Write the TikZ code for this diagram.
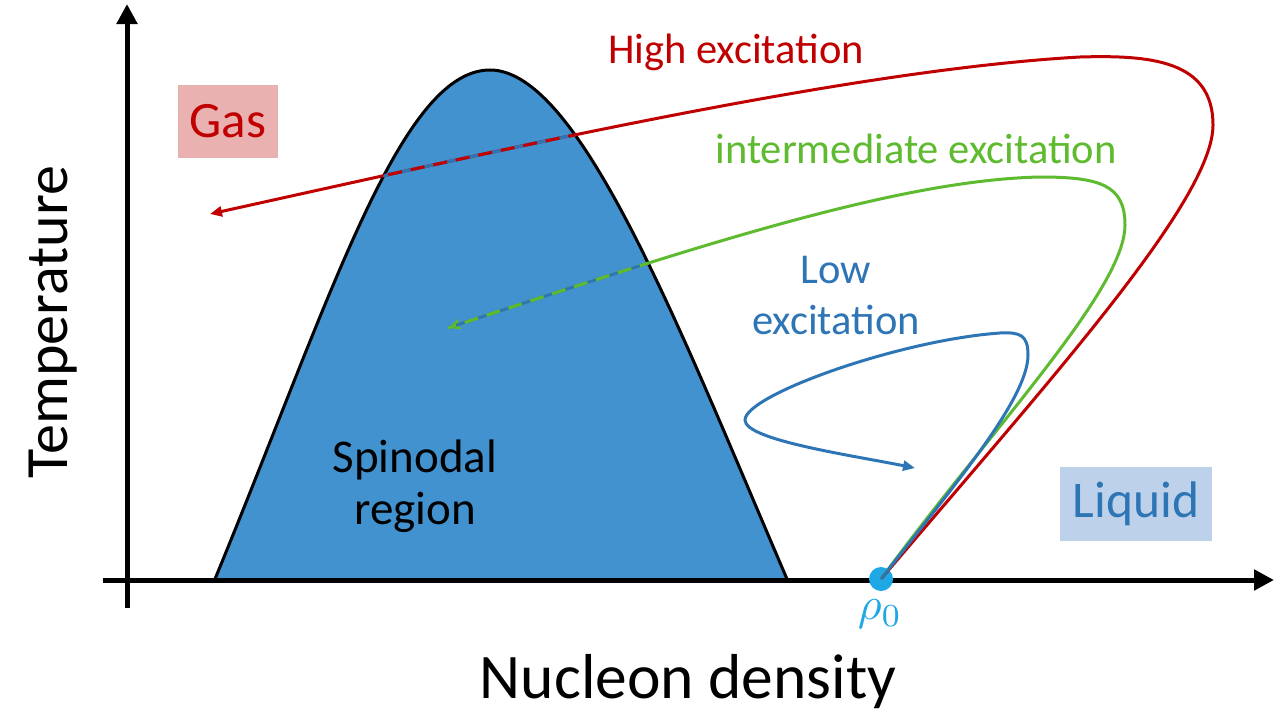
\documentclass[tikz,border=0pt]{standalone}
\usepackage{fontspec}
\setmainfont{Carlito}
\usetikzlibrary{arrows.meta}
\definecolor{spinfill}{RGB}{66,146,208}
\definecolor{redc}{RGB}{192,0,0}
\definecolor{greenc}{RGB}{94,186,46}
\definecolor{bluec}{RGB}{46,117,182}
\definecolor{gasfill}{RGB}{234,177,177}
\definecolor{liqfill}{RGB}{189,210,234}
\definecolor{rhoc}{RGB}{30,168,230}
\newcommand\spinpath{(215,579) .. controls (330,300) and (400,70) .. (490,70) .. controls (580,70) and (680,330) .. (787,579)}
\newcommand\redpath{(rho) .. controls (1050,380) and (1213,200) .. (1213,125) .. controls (1213,60) and (1150,55) .. (1080,57) .. controls (850,70) and (500,150) .. (hiend)}
\newcommand\greenpath{(rho) .. controls (990,430) and (1125,290) .. (1125,225) .. controls (1125,185) and (1100,177) .. (1040,177) .. controls (900,180) and (700,245) .. (imend)}
\newcommand\bluepath{(rho) .. controls (950,490) and (1028,400) .. (1028,355) .. controls (1028,335) and (1020,332) .. (1000,333) .. controls (900,340) and (745,395) .. (745,420) .. controls (745,440) and (850,455) .. (loend)}
\begin{document}
\begin{tikzpicture}[x=1pt,y=-1pt,
  curve/.style={line width=3pt},
  tip/.style={-{Triangle[length=12pt,width=10pt]}},
  axis/.style={line width=5pt,-{Triangle[length=20pt,width=20pt]}},
  lbl/.style={font=\fontsize{42.5}{51}\selectfont, inner sep=0pt},
  dashover/.style={line width=3pt, dash pattern=on 14pt off 9pt}]
\useasboundingbox (0,0) rectangle (1280,720);
% spinodal region
\fill[spinfill] \spinpath -- cycle;
\draw[line width=3pt] \spinpath;
% axes
\coordinate (xs) at (103,580);
\coordinate (xe) at (1274,580);
\coordinate (ys) at (127,608);
\coordinate (ye) at (127,4);
\draw[axis] (xs) -- (xe);
\draw[axis] (ys) -- (ye);
% rho0
\coordinate (rho) at (881,579);
\fill[rhoc] (rho) circle (12pt);
\coordinate (hiend) at (210,214);
\coordinate (imend) at (448,328);
\coordinate (loend) at (915,468);
% curves
\draw[curve, redc, tip] \redpath;
\draw[curve, greenc, tip] \greenpath;
\draw[curve, bluec, tip] \bluepath;
\begin{scope}
\clip \spinpath -- cycle;
\draw[curve, bluec] \redpath;
\draw[dashover, redc] \redpath;
\draw[curve, bluec] \greenpath;
\draw[dashover, greenc] \greenpath;
\end{scope}
% labels
\node[lbl, text=redc] (hi) at (736,52) {High excitation};
\node[lbl, text=greenc] (im) at (916,149) {intermediate excitation};
\node[lbl, text=bluec, align=center] (lo) at (836,296) {Low\\excitation};
\node[font=\fontsize{47}{52}\selectfont, inner sep=0pt, align=center] (sp) at (415,486) {Spinodal\\region};
\node[fill=gasfill, minimum width=100pt, minimum height=73pt, inner sep=0pt, text=redc, font=\fontsize{51}{58}\selectfont] (gas) at (228,121) {Gas};
\node[fill=liqfill, minimum width=152pt, minimum height=74pt, inner sep=0pt, text=bluec, font=\fontsize{51.5}{58}\selectfont] (liq) at (1136,504) {Liquid};
\node[rotate=90, anchor=base, inner sep=0pt, font=\fontsize{60}{70}\selectfont] (temp) at (67,322) {Temperature};
\node[anchor=base, inner sep=0pt, font=\fontsize{63.5}{70}\selectfont] (dens) at (688,698) {Nucleon density};
\node[text=rhoc, inner sep=0pt] (rholbl) at (880,614) {\scalebox{4.6}{$\rho_0$}};
\end{tikzpicture}
\end{document}
